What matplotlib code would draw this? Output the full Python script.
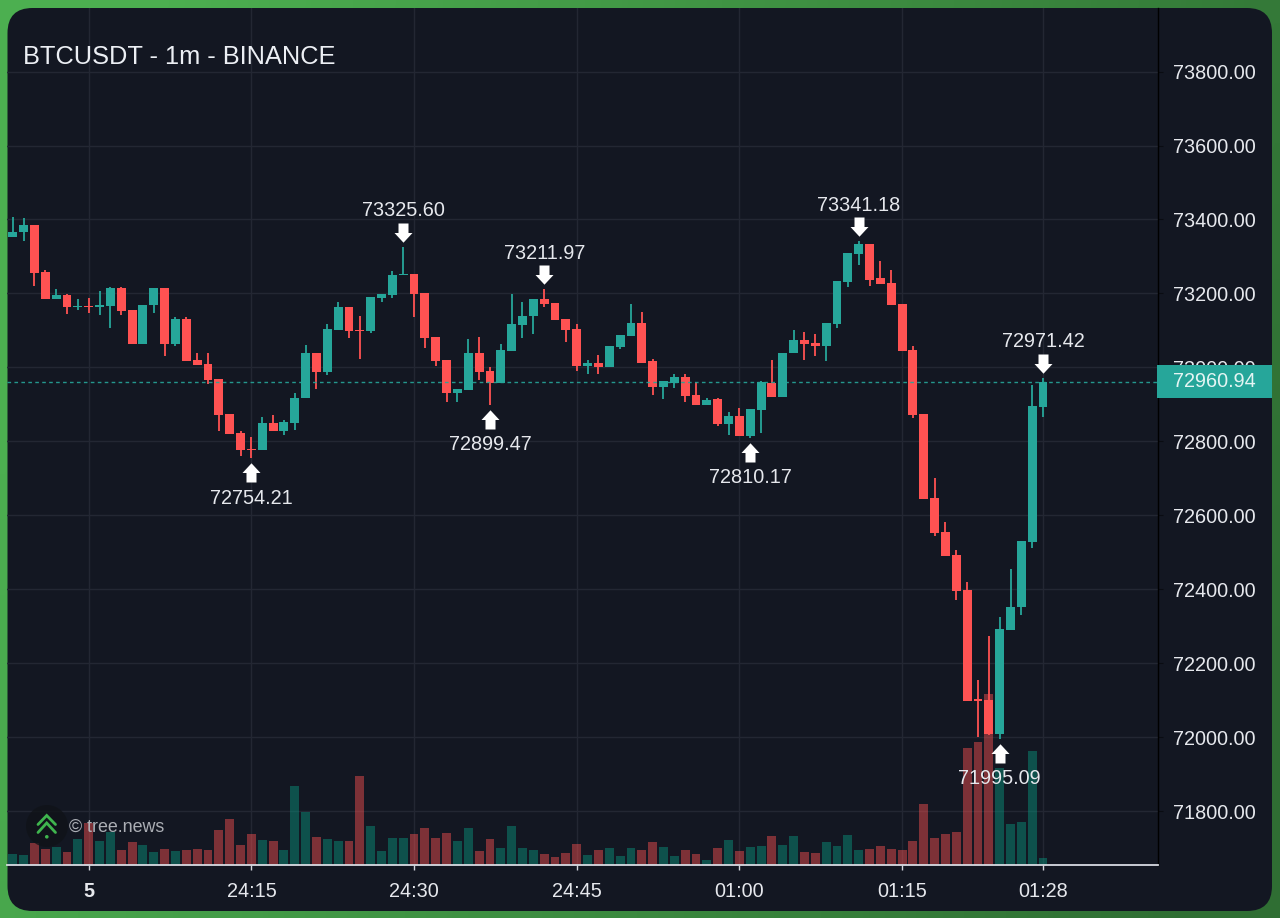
import numpy as np
import matplotlib
matplotlib.use("Agg")
import matplotlib.pyplot as plt
from matplotlib.patches import FancyBboxPatch, Rectangle, Circle
from matplotlib.path import Path
from matplotlib.transforms import blended_transform_factory
from matplotlib.colors import LinearSegmentedColormap

plt.rcParams['font.family'] = ['Liberation Sans', 'DejaVu Sans']

opens = [73352,73366,73384,73258,73185,73196,73162,73166,73163,73167,73214,73154,73064,73168,73214,73064,
         73131,73020,73008,72969,72874,72823,72779,72777,72849,72828,72850,72916,73040,72988,73101,73162,
         73101,73098,73187,73197,73250,73253,73201,73081,73020,72930,72940,73040,72991,72957,73045,73114,
         73138,73184,73174,73130,73104,73004,73011,73001,73054,73085,73120,73016,72948,72958,72974,72925,
         72898,72914,72847,72869,72815,72886,72959,72920,73038,73073,73067,73058,73118,73231,73307,73334,
         73241,73227,73171,73047,72874,72647,72556,72493,72397,72102,72101,72008,72290,72351,72527,72894]
highs = [73406,73403,73385,73263,73211,73198,73185,73188,73207,73218,73218,73154,73169,73214,73214,73135,
         73135,73040,73038,72969,72874,72829,72811,72867,72871,72859,72930,73061,73040,73117,73176,73162,
         73140,73191,73199,73260,73325.60,73253,73201,73081,73020,72942,73077,73082,73002,73062,73199,73176,
         73184,73211.97,73174,73130,73116,73020,73033,73057,73087,73171,73150,73022,72963,72982,72982,72961,
         72918,72918,72880,72891,72888,72964,73020,73040,73101,73096,73089,73120,73234,73309,73341.18,73334,
         73289,73263,73171,73059,72874,72700,72581,72506,72420,72155,72274,72326,72455,72530,72952,72971.42]
lows = [73352,73343,73220,73185,73185,73144,73155,73148,73143,73107,73143,73064,73064,73148,73032,73058,
        73018,73006,72955,72829,72820,72760,72754.21,72777,72828,72817,72832,72916,72942,72979,73101,73079,
        73022,73094,73177,73189,73250,73135,73052,73004,72906,72907,72940,72966,72899.47,72957,73045,73080,
        73089,73164,73128,73069,72989,72982,72982,73001,73050,73085,73013,72925,72915,72944,72907,72898,
        72898,72842,72817,72815,72810.17,72822,72920,72920,73038,73020,73031,73018,73107,73218,73277,73220,
        73226,73170,73045,72864,72645,72545,72491,72371,72099,71999,72007,71995.09,72290,72329,72512,72865]
closes = [73367,73384,73256,73185,73196,73162,73167,73163,73169,73214,73153,73064,73169,73214,73064,73131,
          73018,73006,72966,72872,72820,72777,72777,72849,72828,72851,72916,73040,72988,73104,73162,73098,
          73099,73190,73199,73250,73253,73199,73080,73017,72930,72942,73040,72988,72959,73047,73116,73140,
          73184,73172,73128,73101,73004,73011,73001,73057,73087,73120,73013,72947,72963,72974,72923,72898,
          72913,72846,72869,72815,72888,72961,72920,73040,73073,73064,73057,73120,73234,73309,73334,73236,
          73226,73170,73045,72871,72645,72553,72491,72395,72099,72099,72008,72292,72353,72530,72896,72960.94]
volumes = [11,10,22,16,18,13,26,42,24,33,15,23,20,13,16,14,15,16,15,35,46,20,31,25,24,15,79,53,28,26,24,24,
           89,39,14,27,27,31,37,27,32,24,37,14,26,17,39,17,15,11,8,12,21,10,15,17,9,17,15,23,18,9,15,11,
           5,17,25,14,18,19,29,20,29,13,12,23,19,30,15,16,19,16,15,24,61,27,31,33,117,123,171,97,41,43,114,7]
VOLUME_AXIS_SPAN = 856.5

price_ticks = [71800,72000,72200,72400,72600,72800,73000,73200,73400,73600,73800]
time_tick_idx = [7,22,37,52,67,82,95]
time_tick_labels = ["5","24:15","24:30","24:45","01:00","01:15","01:28"]
low_marks = [22,44,68,91]
high_marks = [36,49,78,95]
title_text = "BTCUSDT - 1m - BINANCE"
watermark = "© tree.news"

UP = "#26a69a"; DOWN = "#ff5252"; VOL_UP = "#089981"
PANEL = "#131722"; GRID = "#232733"; TXT = "#e6e8ed"

W, H = 1280, 918
fig = plt.figure(figsize=(W/100, H/100), dpi=100)

# background
bg = fig.add_axes([0,0,1,1], zorder=0)
bg.set_xlim(0,W); bg.set_ylim(H,0); bg.axis("off")
xx, yy = np.meshgrid(np.linspace(0,1,128), np.linspace(0,1,92))
cmap = LinearSegmentedColormap.from_list("g", ["#4caf50", "#2f6e33"])
bg.imshow(0.8*xx+0.2*yy, extent=(0,W,H,0), cmap=cmap, vmin=0.1, vmax=0.95, aspect="auto", interpolation="bilinear")
bg.set_xlim(0,W); bg.set_ylim(H,0)
bg.add_patch(FancyBboxPatch((7.5,8), 1264.5, 903, boxstyle="round,pad=0,rounding_size=25",
                            fc=PANEL, ec="none"))

# main price axes
L, R, T, B = 7.3, 1158, 8, 864.5
ax = fig.add_axes([L/W, 1-B/H, (R-L)/W, (B-T)/H], zorder=1)
ax.patch.set_alpha(0)
idx = np.arange(len(opens))
o, h, l, c = map(np.array, (opens, highs, lows, closes))
rising = c >= o
cols = np.where(rising, UP, DOWN)

vol_trans = blended_transform_factory(ax.transData, ax.transAxes)
vols = np.array(volumes)/VOLUME_AXIS_SPAN
ax.bar(idx[rising], vols[rising], width=0.82, color=VOL_UP, alpha=0.45, transform=vol_trans, zorder=2)
ax.bar(idx[~rising], vols[~rising], width=0.82, color=DOWN, alpha=0.45, transform=vol_trans, zorder=2)

ax.vlines(idx, l, h, colors=cols, lw=1.3, zorder=3)
ax.bar(idx, np.abs(c-o), bottom=np.minimum(o,c), width=0.82, color=cols, zorder=3.1)

ax.axhline(closes[-1], color=UP, lw=1.0, dashes=(2.6,2.4), alpha=0.9, zorder=4)

ax.set_xlim(-0.507, 105.6)
ax.set_ylim(71655.5, 73972)

ax.set_axisbelow(True)
ax.grid(True, color=GRID, lw=1.0)
ax.yaxis.tick_right()
ax.set_yticks(price_ticks)
ax.set_yticklabels([f"{p:.2f}" for p in price_ticks])
ax.set_xticks(time_tick_idx)
ax.set_xticklabels(time_tick_labels)
ax.tick_params(axis="y", length=3.6, width=0.8, color="#0a0c12", labelcolor=TXT, labelsize=14.3, pad=7.5)
ax.tick_params(axis="x", length=3.6, width=1.0, color="#d1d4dc", labelcolor=TXT, labelsize=14.3, pad=9.3)
ax.get_xticklabels()[0].set_fontweight("bold")
for s in ("top","left"):
    ax.spines[s].set_visible(False)
ax.spines["right"].set_color("#000000"); ax.spines["right"].set_linewidth(1.0)
ax.spines["bottom"].set_color("#d8dbe2"); ax.spines["bottom"].set_linewidth(1.3)

# extrema markers (shape defined around anchor, in pixels)
def arrow(direction):
    hw, sw, start, neck, end = 9.0, 5.0, 4.8, 14.5, 24.0
    v = [(0,start),(hw,neck),(sw,neck),(sw,end),(-sw,end),(-sw,neck),(-hw,neck),(0,start)]
    v = [(x, direction*y) for x,y in v]
    return Path(v, closed=True)
ms = 2*24.0*0.72
for i in high_marks:
    ax.plot([i],[highs[i]], marker=arrow(1), ms=ms, mfc="white", mec="none", ls="none", zorder=5)
    ax.annotate(f"{highs[i]:.2f}", (i, highs[i]), xytext=(0,36), textcoords="offset pixels",
                ha="center", va="center", color=TXT, fontsize=14.3, zorder=6)
for i in low_marks:
    ax.plot([i],[lows[i]], marker=arrow(-1), ms=ms, mfc="white", mec="none", ls="none", zorder=5)
    ax.annotate(f"{lows[i]:.2f}", (i, lows[i]), xytext=(0,-40), textcoords="offset pixels",
                ha="center", va="center", color=TXT, fontsize=14.3, zorder=6)

# overlay in pixel coordinates
ov = fig.add_axes([0,0,1,1], zorder=3)
ov.set_xlim(0,W); ov.set_ylim(H,0); ov.axis("off"); ov.patch.set_alpha(0)
ov.text(23, 56.5, title_text, color="#eceff4", fontsize=18.25, ha="left", va="center")

fig.canvas.draw()
last_y = H - ax.transData.transform((0, closes[-1]))[1]
ov.add_patch(Rectangle((1157, last_y-16.5), 114.5, 33, fc=UP, ec="none"))
ov.text(1214.5, last_y, f"{closes[-1]:.2f}", color="#e4f5f3", fontsize=14.3, ha="center", va="center")

# watermark logo
ov.add_patch(Circle((47,826), 21, fc="#101318", ec="none", alpha=0.8))
logo = "#3fb54e"
ov.plot([38,46.7,55.5],[824.5,815.5,824.5], color=logo, lw=2.0, solid_capstyle="round", solid_joinstyle="miter")
ov.plot([38,46.7,55.5],[832.5,823,832.5], color=logo, lw=2.0, solid_capstyle="round", solid_joinstyle="miter")
ov.add_patch(Circle((46.8,836.8), 1.8, fc=logo, ec="none"))
ov.text(69, 827.5, watermark, color="#b4b7bd", fontsize=12.85, ha="left", va="center", alpha=0.95)

fig.savefig("out.png", dpi=100, facecolor=PANEL)
